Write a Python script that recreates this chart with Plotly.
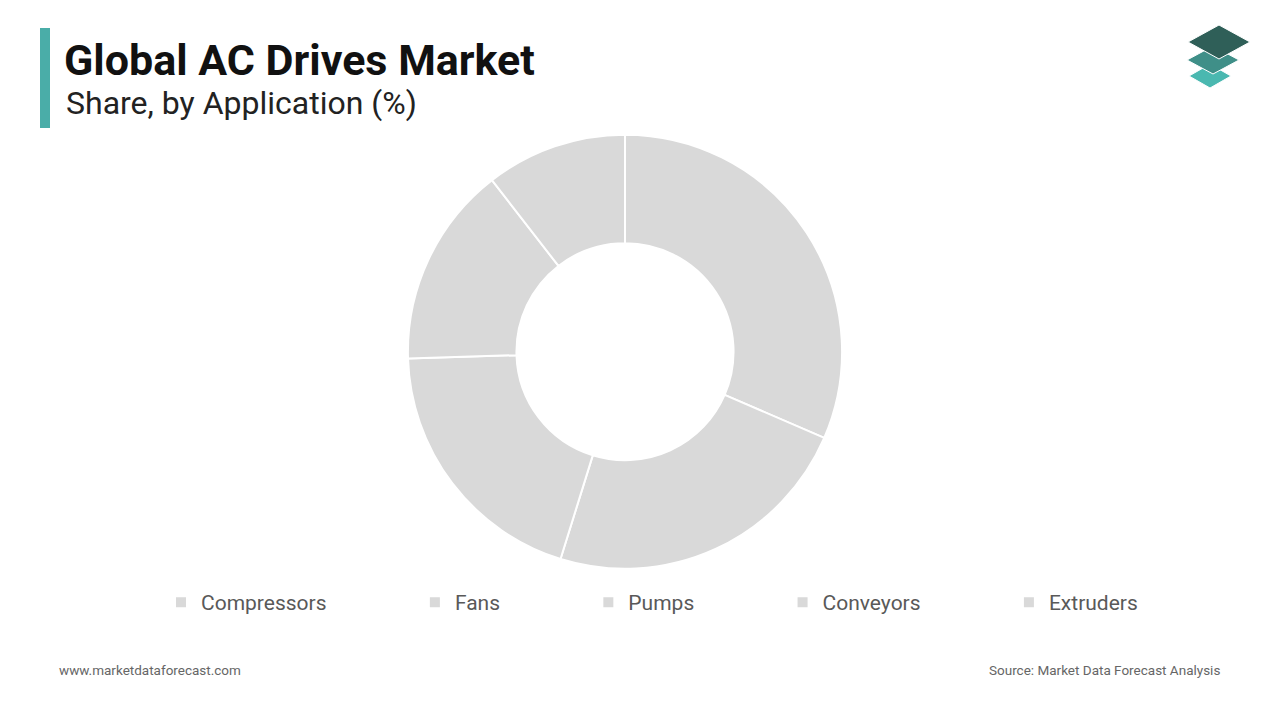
import plotly.graph_objects as go

categories = ["Compressors", "Fans", "Pumps", "Conveyors", "Extruders"]
values = [31.5, 23.3, 19.7, 15.0, 10.5]

W = 1280.0
pad = "\u00a0" * 16
fig = go.Figure(go.Pie(
    labels=[c + pad for c in categories], values=values, hole=0.5, sort=False, direction="clockwise",
    rotation=0, marker=dict(colors=["#d9d9d9"] * 5, line=dict(color="white", width=2)),
    textinfo="none", hoverinfo="label+percent",
    domain=dict(x=[625/W - 0.2, 625/W + 0.2], y=[0.21, 0.813])))

fig.update_layout(
    autosize=True, margin=dict(l=0, r=0, t=0, b=0),
    paper_bgcolor="white", plot_bgcolor="white",
    font=dict(family="Roboto", color="#555555"),
    legend=dict(orientation="h", x=161/W, y=0.163, xanchor="left", yanchor="middle",
                font=dict(size=21, color="#595959"), itemwidth=30),
    shapes=[
        dict(type="rect", xref="paper", yref="paper", x0=40/W, x1=50/W, y0=1-128/720, y1=1-28/720,
             fillcolor="#4aada8", line_width=0),
    ],
    annotations=[
        dict(text="<b>Global AC Drives Market</b>", x=62/W, y=1-60/720, xref="paper", yref="paper",
             xanchor="left", yanchor="middle", showarrow=False, font=dict(size=43, color="#111111")),
        dict(text="Share, by Application (%)", x=64/W, y=1-103/720, xref="paper", yref="paper",
             xanchor="left", yanchor="middle", showarrow=False, font=dict(size=32, color="#222222")),
        dict(text="www.marketdataforecast.com", x=57/W, y=1-670/720, xref="paper", yref="paper",
             xanchor="left", yanchor="middle", showarrow=False, font=dict(size=13.5, color="#666666")),
        dict(text="Source: Market Data Forecast Analysis", x=1222/W, y=1-670/720, xref="paper", yref="paper",
             xanchor="right", yanchor="middle", showarrow=False, font=dict(size=13.5, color="#666666")),
    ],
)

def diamond(cx, cy, w, h, color):
    pts = [(cx, cy - h), (cx + w, cy), (cx, cy + h), (cx - w, cy)]
    p = "M " + " L ".join(f"{x/W},{1-y/720}" for x, y in pts) + " Z"
    return dict(type="path", xref="paper", yref="paper", path=p, fillcolor=color, line=dict(color="white", width=1))

for cx, cy, w, h, col in [(1210, 76, 21, 12, "#4ab8b0"), (1213, 60, 26, 14, "#3f8f88"), (1219, 42, 31, 17, "#2f5f58")]:
    fig.add_shape(diamond(cx, cy, w, h, col))

html = fig.to_html(default_width="100vw", default_height="100vh", config={"displayModeBar": False})
html = html.replace("<head>", "<head><style>html,body{margin:0;padding:0;overflow:hidden;}</style>", 1)
with open("out.html", "w") as f:
    f.write(html)
